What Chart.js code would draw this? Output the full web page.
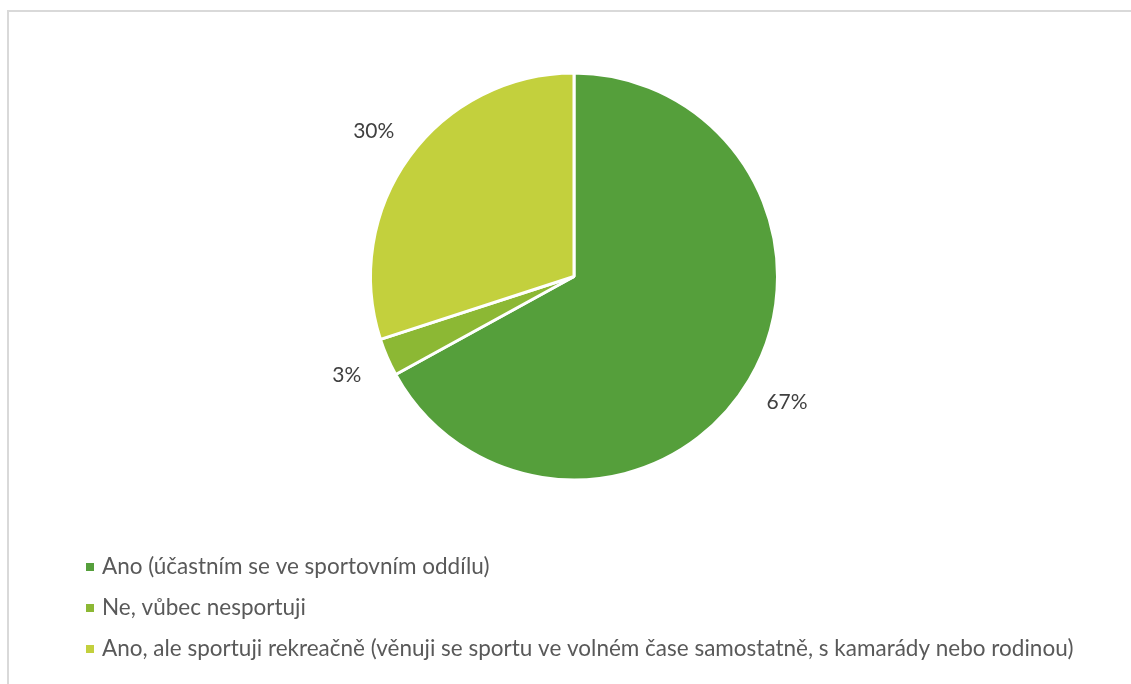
<!DOCTYPE html>
<html>
<head>
<meta charset="utf-8">
<script src="https://cdn.jsdelivr.net/npm/chart.js@4.4.1/dist/chart.umd.min.js"></script>
<style>
  html, body { margin: 0; padding: 0; background: #fff; overflow: hidden; }
  #chart { display: block; }
</style>
</head>
<body>
<canvas id="chart" width="1131" height="684"></canvas>
<script>
// Data
const categories = [
    'Ano (účastním se ve sportovním oddílu)',
    'Ne, vůbec nesportuji',
    'Ano, ale sportuji rekreačně (věnuji se sportu ve volném čase samostatně, s kamarády nebo rodinou)'
];
const shares = [67, 3, 30];
const sliceColors = ['#559f3b', '#8cb834', '#c3d03d'];

const fontFamily = 'Lato, "Open Sans", sans-serif';

// rámeček (jen horní a levá hrana, zbytek je oříznutý)
const frameLines = {
    id: 'frameLines',
    beforeDraw(chart) {
        const ctx = chart.ctx;
        ctx.save();
        ctx.strokeStyle = '#d9d9d9';
        ctx.lineWidth = 2;
        ctx.beginPath();
        ctx.moveTo(1131, 11);
        ctx.lineTo(8, 11);
        ctx.lineTo(8, 684);
        ctx.stroke();
        ctx.restore();
    }
};

// popisky procent vně výsečí
const outsideLabels = {
    id: 'outsideLabels',
    afterDatasetsDraw(chart) {
        const ctx = chart.ctx;
        const meta = chart.getDatasetMeta(0);
        ctx.save();
        ctx.font = '21px ' + fontFamily;
        ctx.fillStyle = '#404040';
        ctx.textAlign = 'center';
        ctx.textBaseline = 'middle';
        meta.data.forEach((arc, i) => {
            const p = arc.getProps(['x', 'y', 'startAngle', 'endAngle', 'outerRadius'], true);
            const mid = (p.startAngle + p.endAngle) / 2;
            const r = p.outerRadius + 44;
            ctx.fillText(shares[i] + '%', p.x + Math.cos(mid) * r, p.y + Math.sin(mid) * r);
        });
        ctx.restore();
    }
};

// legenda pod grafem, položky pod sebou
const stackedLegend = {
    id: 'stackedLegend',
    afterDraw(chart) {
        const ctx = chart.ctx;
        const colors = chart.data.datasets[0].backgroundColor;
        ctx.save();
        ctx.font = '22.5px ' + fontFamily;
        ctx.textBaseline = 'middle';
        chart.data.labels.forEach((label, i) => {
            const y = 567 + i * 41;
            ctx.fillStyle = colors[i];
            ctx.fillRect(86, y - 4, 8, 8);
            ctx.fillStyle = '#595959';
            ctx.fillText(label, 102, y);
        });
        ctx.restore();
    }
};

const ctx = document.getElementById('chart').getContext('2d');
new Chart(ctx, {
    type: 'pie',
    data: {
        labels: categories,
        datasets: [{
            data: shares,
            backgroundColor: sliceColors,
            borderColor: '#ffffff',
            borderWidth: 3
        }]
    },
    options: {
        responsive: false,
        animation: false,
        layout: {
            padding: { left: 369, right: 352, top: 71, bottom: 202 }
        },
        plugins: {
            legend: { display: false },
            tooltip: { enabled: false }
        }
    },
    plugins: [frameLines, outsideLabels, stackedLegend]
});
</script>
</body>
</html>
